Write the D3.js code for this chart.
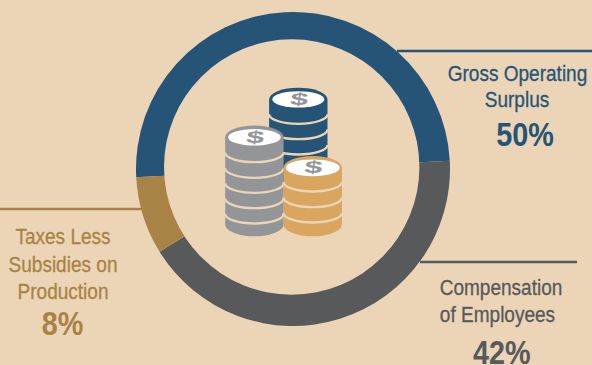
<!DOCTYPE html>
<html>
<head>
<meta charset="utf-8">
<script src="https://cdnjs.cloudflare.com/ajax/libs/d3/7.8.5/d3.min.js"></script>
<style>
  html, body { margin: 0; padding: 0; background: #ecd5b7; }
  svg { display: block; }
  text { font-family: "Liberation Sans", sans-serif; text-anchor: middle; }
</style>
</head>
<body>
<svg id="chart" width="592" height="365"></svg>
<script>
// Shares of income
const categories = ["Gross Operating Surplus", "Compensation of Employees", "Taxes Less Subsidies on Production"];
const shares = [50, 42, 8];
const colors = ["#265476", "#58595b", "#a98346"];
const labelLines = [["Gross Operating", "Surplus"], ["Compensation", "of Employees"], ["Taxes Less", "Subsidies on", "Production"]];
const lineCenters = [[517.5, 517], [501, 497.5], [63, 63, 63]];
const valueCenters = [525, 501.7, 62.5];
const lineBaselines = [[80.5, 106.5], [295, 321.5], [243.5, 272, 299]];
const valueBaselines = [146, 363.5, 335];
const leaders = [[397, 592, 51], [420, 577, 262], [0, 142, 209]];

// Coin stacks, back to front
const stacks = [
  { cx: 298.3, topY: 99.4, faceRx: 26, faceRy: 8.2, body: "#265476", seams: [125, 140.3, 155.7], bottom: 175 },
  { cx: 254.4, topY: 137.3, faceRx: 26.4, faceRy: 8.2, body: "#939598", seams: [163.3, 179, 194, 209.3, 224.7], bottom: 224.6 },
  { cx: 312.7, topY: 167.8, faceRx: 27, faceRy: 8.4, body: "#d9a55f", seams: [192.7, 208.3, 223.7], bottom: 224.6 }
];

const bg = "#ecd5b7";
const svg = d3.select("#chart");
svg.append("rect").attr("width", 592).attr("height", 365).attr("fill", bg);

// Leader lines sit under the ring
svg.selectAll("line.leader").data(leaders).join("line")
  .attr("class", "leader")
  .attr("x1", d => d[0]).attr("x2", d => d[1])
  .attr("y1", d => d[2]).attr("y2", d => d[2])
  .attr("stroke", (d, i) => colors[i])
  .attr("stroke-width", 2.6);

// Ring: wedges from the pie layout, with the hole cut by a disc of background colour
const startDeg = -93;
const pie = d3.pie().sort(null)
  .startAngle(startDeg * Math.PI / 180)
  .endAngle((startDeg + 360) * Math.PI / 180);
const arc = d3.arc().innerRadius(0).outerRadius(157);

const ring = svg.append("g").attr("transform", "translate(293,169)");
ring.selectAll("path").data(pie(shares)).join("path")
  .attr("d", arc)
  .attr("fill", (d, i) => colors[i]);

svg.append("circle").attr("cx", 291.7).attr("cy", 167).attr("r", 127.7).attr("fill", bg);

// Coin stacks
const rx = 29.2, ry = 11.7, seamRy = 9.5;
stacks.forEach(s => {
  const g = svg.append("g");
  g.append("path")
    .attr("fill", s.body)
    .attr("d", `M${s.cx - rx},${s.topY} A${rx},${ry} 0 0 1 ${s.cx + rx},${s.topY} V${s.bottom} A${rx},${ry} 0 0 1 ${s.cx - rx},${s.bottom} Z`);
  g.selectAll("path.seam").data(s.seams).join("path")
    .attr("class", "seam")
    .attr("fill", "none")
    .attr("stroke", bg)
    .attr("stroke-width", 2.3)
    .attr("d", d => {
      const c = d - 1.2 - seamRy;
      return `M${s.cx - rx},${c} A${rx},${seamRy} 0 0 0 ${s.cx + rx},${c}`;
    });
  g.append("ellipse")
    .attr("cx", s.cx).attr("cy", s.topY)
    .attr("rx", s.faceRx).attr("ry", s.faceRy)
    .attr("fill", "#ffffff");
  g.append("text")
    .attr("transform", `translate(${s.cx},${s.topY + 5.3}) skewX(-8) scale(1.6,0.86)`)
    .attr("font-size", 20)
    .attr("font-weight", 700)
    .attr("fill", "#939598")
    .text("$");
});

// Category labels and percentages, set condensed
const condensed = (x, y, sx) => `translate(${x},${y}) scale(${sx},1)`;
categories.forEach((name, i) => {
  const label = svg.append("g").attr("fill", colors[i]).attr("data-category", name);
  labelLines[i].forEach((line, j) => {
    label.append("text")
      .attr("transform", condensed(lineCenters[i][j], lineBaselines[i][j], 0.885))
      .attr("font-size", 21.5)
      .attr("stroke", colors[i])
      .attr("stroke-width", 0.3)
      .text(line);
  });
  label.append("text")
    .attr("transform", condensed(valueCenters[i], valueBaselines[i], 0.86))
    .attr("font-size", 33.5)
    .attr("font-weight", 700)
    .text(shares[i] + "%");
});
</script>
</body>
</html>
